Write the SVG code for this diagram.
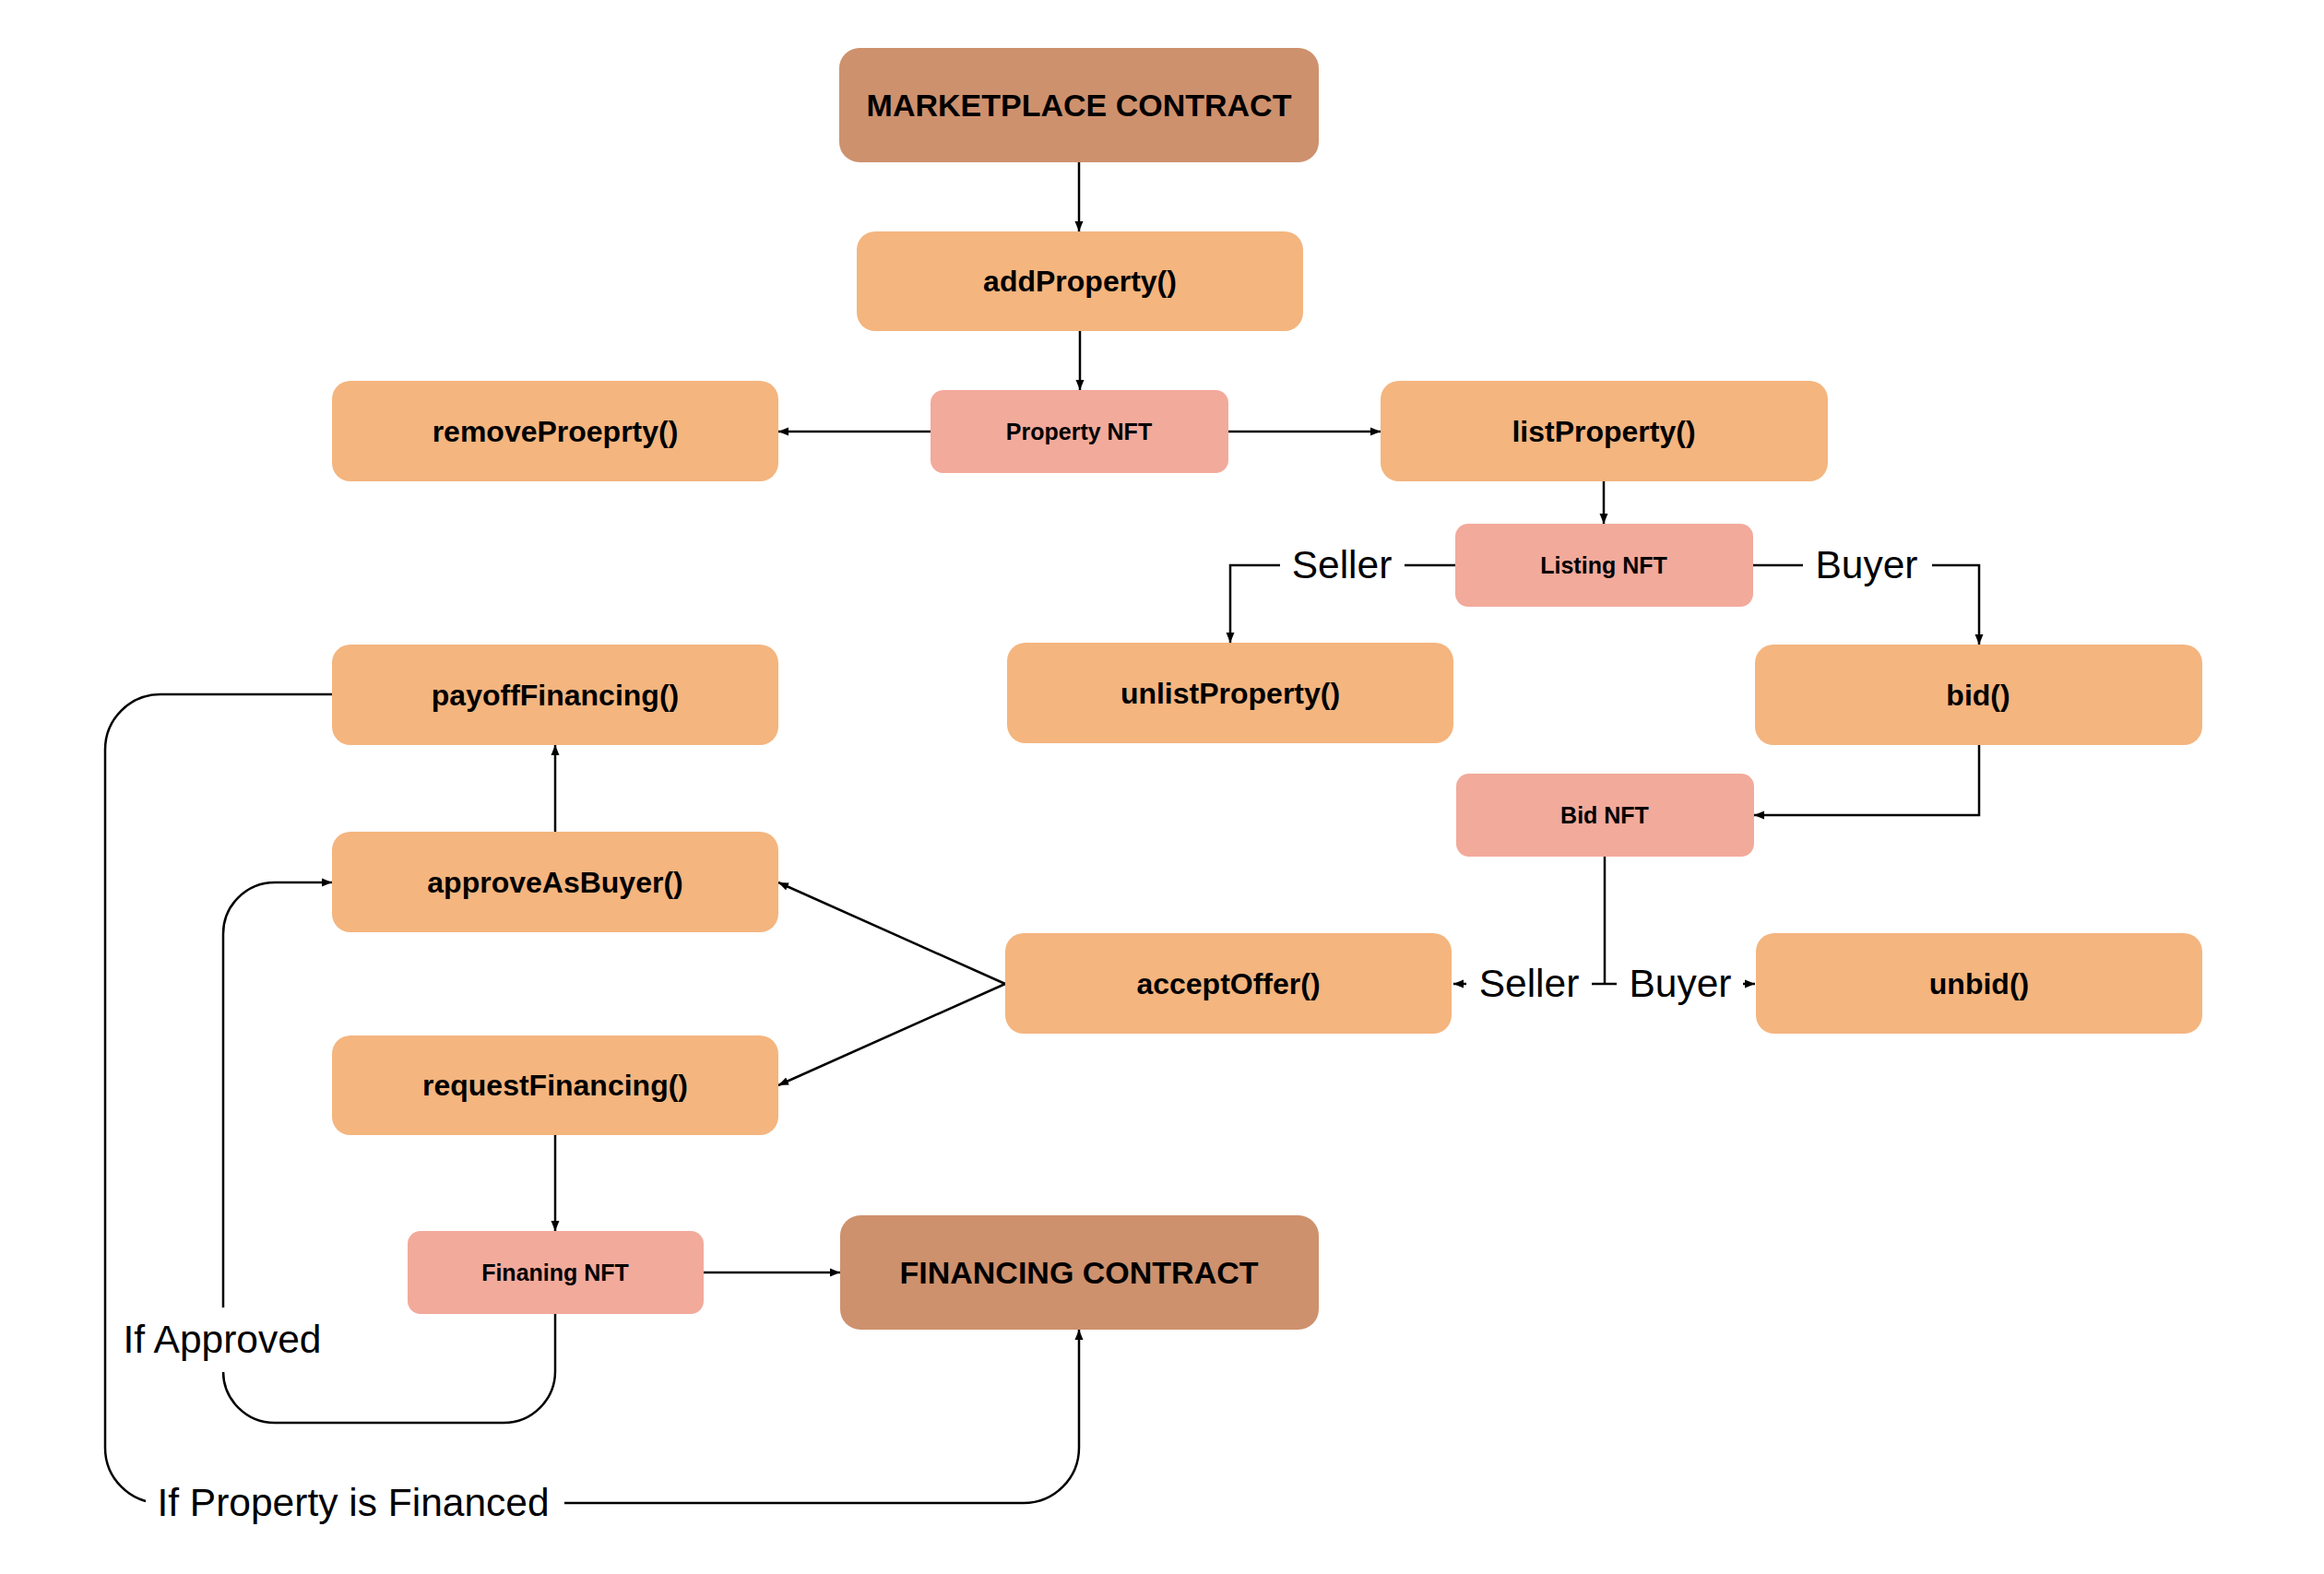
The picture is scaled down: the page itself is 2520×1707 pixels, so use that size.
<svg xmlns="http://www.w3.org/2000/svg" width="2520" height="1707" viewBox="0 0 2520 1707">
<defs>
<style>
.fn{fill:#F4B57F}
.nft{fill:#F2AA9B}
.ct{fill:#CE916D}
.t{font-family:"Liberation Sans",Arial,sans-serif;font-weight:bold;fill:#000;text-anchor:middle}
.tf{font-size:32px}
.tn{font-size:25px}
.tc{font-size:34px}
.e{fill:none;stroke:#000;stroke-width:2.5}
.lb{font-family:"Liberation Sans",Arial,sans-serif;font-size:42.5px;fill:#000;text-anchor:middle}
.bg{fill:#fff}
</style>
<marker id="a" markerUnits="userSpaceOnUse" markerWidth="12" markerHeight="10" refX="11" refY="5" orient="auto">
<path d="M0,0.5 L11,5 L0,9.5 z" fill="#000"/>
</marker>
</defs>
<rect width="2520" height="1707" fill="#fff"/>

<g id="connectors">
<path class="e" d="M1170,176 V251" marker-end="url(#a)"/>
<path class="e" d="M1171,359 V423" marker-end="url(#a)"/>
<path class="e" d="M1009,468 H844" marker-end="url(#a)"/>
<path class="e" d="M1332,468 H1497" marker-end="url(#a)"/>
<path class="e" d="M1739,522 V568" marker-end="url(#a)"/>
<path class="e" d="M1578,613 H1334 V697" marker-end="url(#a)"/>
<path class="e" d="M1901,613 H2146 V699" marker-end="url(#a)"/>
<path class="e" d="M2146,808 V884 H1902" marker-end="url(#a)"/>
<path class="e" d="M1740,929 V1067"/>
<path class="e" d="M1740,1067 H1576" marker-end="url(#a)"/>
<path class="e" d="M1740,1067 H1903" marker-end="url(#a)"/>
<path class="e" d="M1090,1067 L844,957" marker-end="url(#a)"/>
<path class="e" d="M1090,1067 L844,1177" marker-end="url(#a)"/>
<path class="e" d="M602,902 V808" marker-end="url(#a)"/>
<path class="e" d="M602,1231 V1335" marker-end="url(#a)"/>
<path class="e" d="M763,1380 H911" marker-end="url(#a)"/>
<path class="e" d="M602,1425 V1487 A56,56 0 0 1 546,1543 H298 A56,56 0 0 1 242,1487 V1013 A56,56 0 0 1 298,957 H360" marker-end="url(#a)"/>
<path class="e" d="M360,753 H174 A60,60 0 0 0 114,813 V1570 A60,60 0 0 0 174,1630 H1110 A60,60 0 0 0 1170,1570 V1442" marker-end="url(#a)"/>

<rect class="bg" x="1388" y="590" width="135" height="50"/>
<text class="lb" x="1455" y="627">Seller</text>
<rect class="bg" x="1955" y="590" width="140" height="56"/>
<text class="lb" x="2024" y="627">Buyer</text>
<rect class="bg" x="1590" y="1040" width="136" height="55"/>
<text class="lb" x="1658" y="1081">Seller</text>
<rect class="bg" x="1753" y="1040" width="137" height="60"/>
<text class="lb" x="1822" y="1081">Buyer</text>
<rect class="bg" x="118" y="1418" width="248" height="70"/>
<text class="lb" x="241" y="1467">If Approved</text>
<rect class="bg" x="158" y="1598" width="454" height="66"/>
<text class="lb" x="383" y="1644">If Property is Financed</text>
</g>

<g id="marketplace-contract"><rect class="ct" x="910" y="52" width="520" height="124" rx="22"/><text class="t tc" x="1170" y="126">MARKETPLACE CONTRACT</text></g>
<g id="addProperty"><rect class="fn" x="929" y="251" width="484" height="108" rx="20"/><text class="t tf" x="1171" y="316">addProperty()</text></g>
<g id="property-nft"><rect class="nft" x="1009" y="423" width="323" height="90" rx="14"/><text class="t tn" x="1170" y="477">Property NFT</text></g>
<g id="removeProeprty"><rect class="fn" x="360" y="413" width="484" height="109" rx="20"/><text class="t tf" x="602" y="479">removeProeprty()</text></g>
<g id="listProperty"><rect class="fn" x="1497" y="413" width="485" height="109" rx="20"/><text class="t tf" x="1739" y="479">listProperty()</text></g>
<g id="listing-nft"><rect class="nft" x="1578" y="568" width="323" height="90" rx="14"/><text class="t tn" x="1739" y="622">Listing NFT</text></g>
<g id="unlistProperty"><rect class="fn" x="1092" y="697" width="484" height="109" rx="20"/><text class="t tf" x="1334" y="763">unlistProperty()</text></g>
<g id="bid"><rect class="fn" x="1903" y="699" width="485" height="109" rx="20"/><text class="t tf" x="2145" y="765">bid()</text></g>
<g id="bid-nft"><rect class="nft" x="1579" y="839" width="323" height="90" rx="14"/><text class="t tn" x="1740" y="893">Bid NFT</text></g>
<g id="payoffFinancing"><rect class="fn" x="360" y="699" width="484" height="109" rx="20"/><text class="t tf" x="602" y="765">payoffFinancing()</text></g>
<g id="approveAsBuyer"><rect class="fn" x="360" y="902" width="484" height="109" rx="20"/><text class="t tf" x="602" y="968">approveAsBuyer()</text></g>
<g id="requestFinancing"><rect class="fn" x="360" y="1123" width="484" height="108" rx="20"/><text class="t tf" x="602" y="1188">requestFinancing()</text></g>
<g id="acceptOffer"><rect class="fn" x="1090" y="1012" width="484" height="109" rx="20"/><text class="t tf" x="1332" y="1078">acceptOffer()</text></g>
<g id="unbid"><rect class="fn" x="1904" y="1012" width="484" height="109" rx="20"/><text class="t tf" x="2146" y="1078">unbid()</text></g>
<g id="finaning-nft"><rect class="nft" x="442" y="1335" width="321" height="90" rx="14"/><text class="t tn" x="602" y="1389">Finaning NFT</text></g>
<g id="financing-contract"><rect class="ct" x="911" y="1318" width="519" height="124" rx="22"/><text class="t tc" x="1170" y="1392">FINANCING CONTRACT</text></g>
</svg>
